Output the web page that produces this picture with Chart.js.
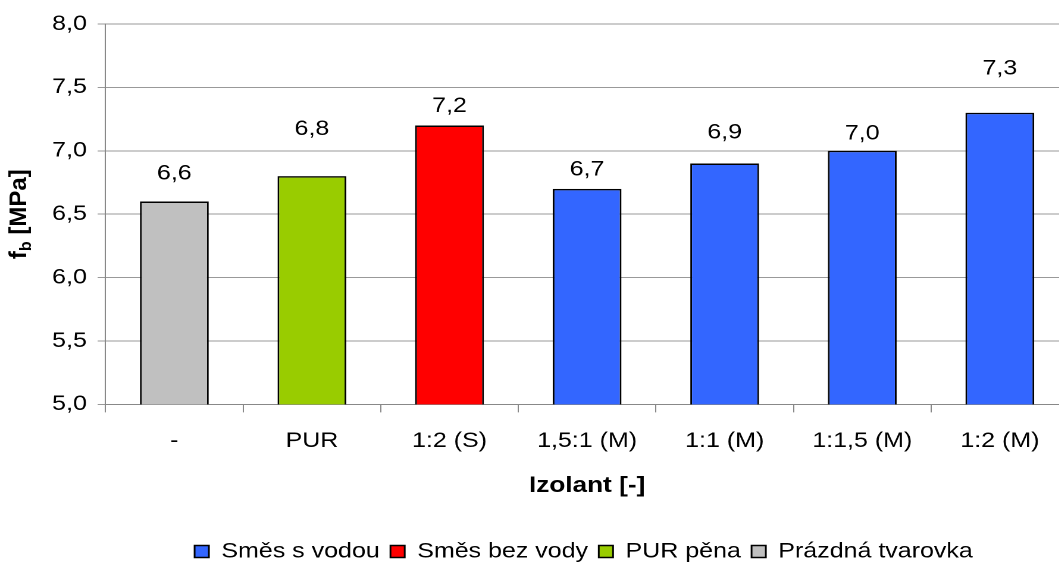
<!DOCTYPE html>
<html>
<head>
<meta charset="utf-8">
<script src="https://cdn.jsdelivr.net/npm/chart.js@4.4.1/dist/chart.umd.min.js"></script>
<style>
    body { margin: 0; overflow: hidden; background: #fff; }
    /* graf je vodorovne roztazeny */
    #obal { width: 981px; height: 565px; transform: scaleX(1.19); transform-origin: 0 0; }
</style>
</head>
<body>
<div id="obal"><canvas id="graf" width="981" height="565"></canvas></div>
<script>
// Data - pevnost v tahu za ohybu podle izolantu
const kategorie = ['-', 'PUR', '1:2 (S)', '1,5:1 (M)', '1:1 (M)', '1:1,5 (M)', '1:2 (M)'];
const smesSVodou = [null, null, null, 6.7, 6.9, 7.0, 7.3];
const smesBezVody = [null, null, 7.2, null, null, null, null];
const purPena = [null, 6.8, null, null, null, null, null];
const prazdnaTvarovka = [6.6, null, null, null, null, null, null];
const nazvySerii = ['Směs s vodou', 'Směs bez vody', 'PUR pěna', 'Prázdná tvarovka'];
const osaY = { min: 5.0, max: 8.0, krok: 0.5 };

const ROZTAH = 1.19;
const PISMO = '"Liberation Sans", Arial, sans-serif';

// posun popisku nad sloupcem (px)
const posunPopisku = [28, 47, 19, 19, 31, 17, 44];

function carka(v) {
    return v.toFixed(1).replace('.', ',');
}

// popisky hodnot nad sloupci
const popiskyHodnot = {
    id: 'popiskyHodnot',
    afterDatasetsDraw(chart) {
        const ctx = chart.ctx;
        ctx.save();
        ctx.font = '21px ' + PISMO;
        ctx.fillStyle = '#000';
        ctx.textAlign = 'center';
        ctx.textBaseline = 'middle';
        chart.data.datasets.forEach((ds, i) => {
            const meta = chart.getDatasetMeta(i);
            meta.data.forEach((bar, j) => {
                const v = ds.data[j];
                if (v === null) return;
                ctx.fillText(carka(v), bar.x, bar.y - posunPopisku[j]);
            });
        });
        ctx.restore();
    }
};

// svisly titulek osy y s dolnim indexem
const titulekY = {
    id: 'titulekY',
    afterDraw(chart) {
        const ctx = chart.ctx;
        const a = chart.chartArea;
        const velky = 'bold 24px ' + PISMO;
        const maly = 'bold 16px ' + PISMO;
        ctx.save();
        ctx.font = velky;
        const w1 = ctx.measureText('f').width;
        const w3 = ctx.measureText(' [MPa]').width;
        ctx.font = maly;
        const w2 = ctx.measureText('b').width;
        const celkem = w1 + w2 + w3;
        ctx.translate(15.1, (a.top + a.bottom) / 2);
        ctx.scale(1 / ROZTAH, 1);
        ctx.rotate(-Math.PI / 2);
        ctx.fillStyle = '#000';
        ctx.textBaseline = 'alphabetic';
        ctx.textAlign = 'left';
        let x = -celkem / 2;
        const zakl = 8;
        ctx.font = velky;
        ctx.fillText('f', x, zakl);
        x += w1;
        ctx.font = maly;
        ctx.fillText('b', x, zakl + 5);
        x += w2;
        ctx.font = velky;
        ctx.fillText(' [MPa]', x, zakl);
        ctx.restore();
    }
};

Chart.defaults.font.family = PISMO;
Chart.defaults.color = '#000';

const barvy = ['#3366FF', '#FF0000', '#99CC00', '#C0C0C0'];
const serie = [smesSVodou, smesBezVody, purPena, prazdnaTvarovka];

new Chart(document.getElementById('graf'), {
    type: 'bar',
    data: {
        labels: kategorie,
        datasets: serie.map((d, i) => ({
            label: nazvySerii[i],
            data: d,
            backgroundColor: barvy[i],
            borderColor: '#000',
            borderWidth: 1.5,
            grouped: false,
            categoryPercentage: 1.0,
            barPercentage: 0.5
        }))
    },
    options: {
        responsive: false,
        animation: false,
        devicePixelRatio: 2,
        layout: { padding: { top: 24, bottom: -7, left: 0, right: 0 } },
        plugins: {
            tooltip: { enabled: false },
            legend: {
                position: 'bottom',
                labels: {
                    font: { size: 21 },
                    boxWidth: 12,
                    boxHeight: 12,
                    padding: 9,
                    color: '#000'
                }
            }
        },
        scales: {
            x: {
                grid: {
                    display: true,
                    drawOnChartArea: false,
                    drawTicks: true,
                    offset: true,
                    tickLength: 8,
                    color: '#888'
                },
                border: { color: '#888' },
                ticks: { font: { size: 21 }, padding: 16, color: '#000', maxRotation: 0 },
                title: {
                    display: true,
                    text: 'Izolant [-]',
                    font: { size: 22, weight: 'bold' },
                    padding: { top: 3, bottom: 33 },
                    color: '#000'
                }
            },
            y: {
                min: osaY.min,
                max: osaY.max,
                grid: { color: '#999', tickLength: 6.7 },
                border: { color: '#888' },
                ticks: {
                    stepSize: osaY.krok,
                    font: { size: 21 },
                    padding: 9,
                    color: '#000',
                    callback: v => carka(v)
                },
                afterFit: s => { s.width = 88.7; }
            },
            prazdna: {
                position: 'right',
                min: 0,
                max: 1,
                grid: { display: false },
                border: { display: false },
                ticks: { display: false },
                afterFit: s => { s.width = 83; }
            }
        }
    },
    plugins: [popiskyHodnot, titulekY]
});
</script>
</body>
</html>
